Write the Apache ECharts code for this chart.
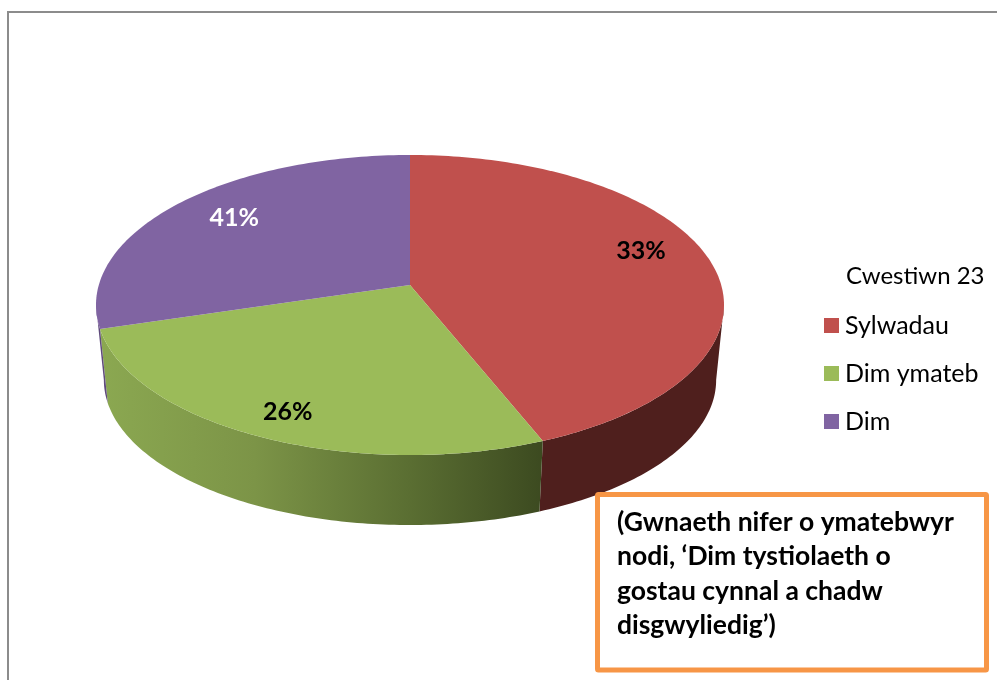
<!DOCTYPE html>
<html><head><meta charset="utf-8">
<style>html,body{margin:0;padding:0;background:#fff}#c{width:997px;height:680px}</style>
<script src="https://cdn.jsdelivr.net/npm/echarts@6/dist/echarts.min.js"></script>
</head><body><div id="c"></div>
<script>
const categories = ['Sylwadau', 'Dim ymateb', 'Dim'];
const percentLabels = [33, 26, 41];
// Share of the rim each slice occupies in the picture (the drawn wedges differ from the printed percentages)
const drawnShares = [43.05, 29.4, 27.55];
const colors = ['#C0504D', '#9BBB59', '#8064A2'];
const legendTitle = 'Cwestiwn 23';
const noteLines = ['(Gwnaeth nifer o ymatebwyr', 'nodi, ‘Dim tystiolaeth o', 'gostau cynnal a chadw', 'disgwyliedig’)'];

const FONT = 'Lato, "Open Sans", sans-serif';
const apexV = -0.133;          // perspective: the apex sits above the ellipse centre
const sideShift = 0.5, sideScaleU = 0.975, sideScaleV = 0.967;
const labelSpots = [[0.736, -0.36], [-0.389, 0.712], [-0.56, -0.578]];
const labelColors = ['#000', '#000', '#fff'];
const sideFills = [
  '#4F1F1D',
  { type: 'linear', global: true, x: 100, y: 0, x2: 543, y2: 0, colorStops: [
    { offset: 0, color: '#8BA851' }, { offset: 0.35, color: '#7C9447' },
    { offset: 0.7, color: '#5A6E32' }, { offset: 1, color: '#3C4A20' }] },
  '#5F4A7C'
];

function topPoint(deg) { const a = deg * Math.PI / 180; return [Math.sin(a), -Math.cos(a)]; }
function sidePoint(deg) { const p = topPoint(deg); return [p[0] * sideScaleU, p[1] * sideScaleV + sideShift]; }
function arc(from, to, fn) {
  const out = [], n = Math.max(2, Math.ceil(Math.abs(to - from)));
  for (let i = 0; i <= n; i++) out.push(fn(from + (to - from) * i / n));
  return out;
}

function makeRender(idx) {
  return function (params, api) {
    const total = drawnShares.reduce((a, b) => a + b, 0);
    let before = 0;
    for (let i = 0; i < idx; i++) before += drawnShares[i];
    const a0 = before / total * 360, a1 = a0 + api.value(0) / total * 360;
    const children = [];
    const f0 = Math.max(a0, 90), f1 = Math.min(a1, 270);
    if (f1 > f0) {
      const pts = arc(f0, f1, topPoint).concat(arc(f1, f0, sidePoint)).map(p => api.coord(p));
      children.push({ type: 'polygon', shape: { points: pts }, style: { fill: sideFills[idx], stroke: null } });
    }
    const top = [[0, apexV]].concat(arc(a0, a1, topPoint)).map(p => api.coord(p));
    children.push({ type: 'polygon', shape: { points: top }, style: { fill: colors[idx] } });
    const s = api.coord(labelSpots[idx]);
    children.push({ type: 'text', x: s[0], y: s[1], z2: 10, style: {
      text: api.value(1) + '%', fill: labelColors[idx], font: 'bold 25px ' + FONT,
      align: 'center', verticalAlign: 'middle' } });
    return { type: 'group', children };
  };
}

const chart = echarts.init(document.getElementById('c'), null, { renderer: 'canvas' });
chart.setOption({
  animation: false,
  backgroundColor: '#fff',
  title: { text: legendTitle, left: 846, top: 264, padding: 0,
    textStyle: { fontFamily: FONT, fontWeight: 'normal', fontSize: 24, color: '#000' } },
  legend: { data: categories, orient: 'vertical', left: 824, top: 313, padding: 0,
    itemWidth: 15, itemHeight: 15, itemGap: 23, icon: 'rect', selectedMode: false,
    textStyle: { fontFamily: FONT, fontSize: 25, color: '#000', padding: [0, 0, 0, 1] } },
  grid: { left: 96, width: 628, top: 155, height: 300 },
  xAxis: { type: 'value', min: -1, max: 1, show: false },
  yAxis: { type: 'value', min: -1, max: 1, inverse: true, show: false },
  series: categories.map((name, i) => ({
    type: 'custom', name, clip: false, silent: true,
    itemStyle: { color: colors[i] },
    encode: { x: 2, y: 3 },
    data: [[drawnShares[i], percentLabels[i], 0, 0]],
    renderItem: makeRender(i)
  })),
  graphic: [
    { type: 'polyline', silent: true, shape: { points: [[8, 680], [8, 12], [997, 12]] },
      style: { stroke: '#8C8C8C', lineWidth: 2, fill: null } },
    { type: 'rect', silent: true, z: 20, shape: { x: 597.5, y: 494.5, width: 389, height: 175.5, r: 1 },
      style: { fill: '#fff', stroke: '#F79646', lineWidth: 5 } },
    { type: 'text', silent: true, z: 21, x: 617, y: 505, style: {
      text: noteLines.join('\n'), font: 'bold 26.5px ' + FONT, lineHeight: 34.5, fill: '#000' } }
  ]
});
</script></body></html>
